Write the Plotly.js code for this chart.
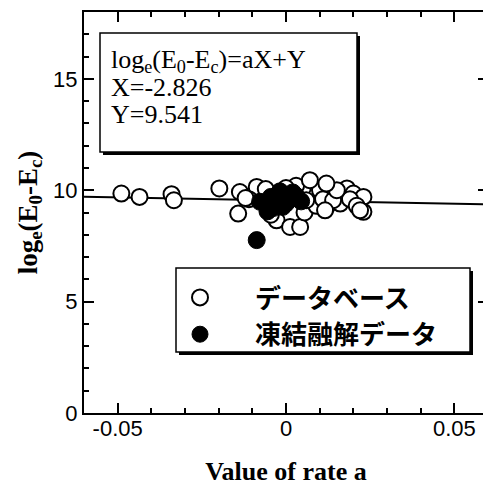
<!DOCTYPE html>
<html>
<head>
<meta charset="utf-8">
<script src="https://cdn.plot.ly/plotly-3.0.1.min.js"></script>
<style>
html,body{margin:0;padding:0;overflow:hidden;background:#fff;}
#chart{width:490px;height:488px;}
</style>
</head>
<body>
<div id="chart"></div>
<script>
// Database (open circles)
const dbX = [-0.0489,-0.0435,-0.0340,-0.0333,-0.0198,-0.0137,-0.0142,-0.0087,-0.0110,-0.0060,
             -0.0028,0.0012,0.0042,-0.0045,0.0055,0.0071,0.0081,0.0101,0.0121,0.0141,
             0.0161,0.0181,0.0200,0.0230,0.0230,0.0050,0.0030,0.0000,0.0090,0.0110,
             0.0060,0.0140,0.0190,0.0210,-0.0120,0.0116,0.0151,0.0220,0.0120,0.0071];
const dbY = [9.85,9.70,9.82,9.55,10.08,9.92,8.95,10.15,9.60,10.05,
             8.65,8.35,8.35,8.90,9.00,10.30,9.78,10.00,9.25,9.85,
             9.40,10.08,9.85,9.70,9.03,10.10,10.20,10.10,9.30,9.60,
             9.55,9.55,9.60,9.30,9.65,9.10,10.00,9.10,10.30,10.45];
// Freeze-thaw data (filled circles)
const ftX = [-0.0087,-0.0077,-0.0060,-0.0045,-0.0038,-0.0025,-0.0018,0.0000,0.0012,0.0030,0.0045,-0.0055,-0.0010,0.0020];
const ftY = [7.76,9.48,9.35,9.70,9.20,9.55,9.95,9.40,9.60,9.75,9.50,9.05,9.25,9.90];
// Fit: log_e(E0-Ec) = aX + Y
const fitX = -2.826;
const fitY = 9.541;
const xRange = [-0.06, 0.06];
const yRange = [0, 18];
const xTicks = [-0.05, 0, 0.05];
const xTickText = ['-0.05', '0', '0.05'];
const yTicks = [0, 5, 10, 15];
const seriesNames = ['データベース', '凍結融解データ'];

const lineX = xRange.slice();
const lineY = lineX.map(a => a * fitX + fitY);

const traces = [
  {x: lineX, y: lineY, mode: 'lines', line: {color: '#000', width: 2}, showlegend: false, hoverinfo: 'skip'},
  {x: dbX, y: dbY, mode: 'markers', name: seriesNames[0],
   marker: {symbol: 'circle', size: 16, color: '#fff', line: {color: '#000', width: 2}}},
  {x: ftX, y: ftY, mode: 'markers', name: seriesNames[1],
   marker: {symbol: 'circle', size: 17, color: '#000', line: {color: '#000', width: 1}}}
];

const W = 404, H = 401;
function px(x){ return x / W; }
function py(y){ return y / H; }
const boxFont = {family: 'Liberation Serif, Times New Roman, serif', size: 26, color: '#000'};

const layout = {
  width: 490, height: 488,
  margin: {l: 84, r: 2, t: 12, b: 75},
  paper_bgcolor: '#fff', plot_bgcolor: '#fff',
  showlegend: true,
  xaxis: {
    range: xRange, tickvals: xTicks, ticktext: xTickText,
    ticks: 'inside', ticklen: 10, tickwidth: 2, tickcolor: '#000',
    minor: {dtick: 0.01, ticks: 'inside', ticklen: 5, tickwidth: 2, tickcolor: '#000'},
    showline: true, linewidth: 2, linecolor: '#000', mirror: 'ticks',
    showgrid: false, zeroline: false, ticklabelstandoff: -5,
    tickfont: {family: 'Liberation Sans, Arial, sans-serif', size: 22, color: '#000'},
    title: {text: 'Value of rate a', standoff: 21,
            font: {family: 'Liberation Serif, Times New Roman, serif', size: 26, color: '#000', weight: 'bold'}}
  },
  yaxis: {
    range: yRange, tickvals: yTicks,
    ticks: 'inside', ticklen: 10, tickwidth: 2, tickcolor: '#000',
    minor: {dtick: 1, ticks: 'inside', ticklen: 5, tickwidth: 2, tickcolor: '#000'},
    showline: true, linewidth: 2, linecolor: '#000', mirror: 'ticks',
    showgrid: false, zeroline: false,
    tickfont: {family: 'Liberation Sans, Arial, sans-serif', size: 22, color: '#000'},
    title: {text: 'log<sub>e</sub>(E<sub>0</sub>-E<sub>c</sub>)', standoff: 8,
            font: {family: 'Liberation Serif, Times New Roman, serif', size: 27, color: '#000', weight: 'bold'}}
  },
  legend: {
    x: px(61), y: py(413-274), xanchor: 'left', yanchor: 'top',
    bgcolor: 'rgba(0,0,0,0)', borderwidth: 0, itemwidth: 100,
    font: {family: 'Noto Sans CJK JP, sans-serif', size: 26, color: '#000', weight: 'bold'}
  },
  shapes: [
    // text box shadow + box
    {type: 'rect', xref: 'paper', yref: 'paper', layer: 'above',
     x0: px(19), x1: px(276), y0: py(413-155), y1: py(413-36),
     fillcolor: '#000', line: {width: 0}},
    {type: 'rect', xref: 'paper', yref: 'paper', layer: 'above',
     x0: px(16), x1: px(273), y0: py(413-152), y1: py(413-33),
     fillcolor: '#fff', line: {color: '#000', width: 1.5}},
    // legend box shadow + box
    {type: 'rect', xref: 'paper', yref: 'paper', layer: 'below',
     x0: px(95), x1: px(389), y0: py(413-355), y1: py(413-271),
     fillcolor: '#000', line: {width: 0}},
    {type: 'rect', xref: 'paper', yref: 'paper', layer: 'below',
     x0: px(92), x1: px(386), y0: py(413-352), y1: py(413-268),
     fillcolor: '#fff', line: {color: '#000', width: 1.5}}
  ],
  annotations: [
    {xref: 'paper', yref: 'paper', x: px(25), y: py(413-61), xanchor: 'left', yanchor: 'middle', showarrow: false,
     text: 'log<sub>e</sub>(E<sub>0</sub>-E<sub>c</sub>)=aX+Y', font: boxFont},
    {xref: 'paper', yref: 'paper', x: px(25), y: py(413-88), xanchor: 'left', yanchor: 'middle', showarrow: false,
     text: 'X=' + fitX.toFixed(3), font: boxFont},
    {xref: 'paper', yref: 'paper', x: px(25), y: py(413-114), xanchor: 'left', yanchor: 'middle', showarrow: false,
     text: 'Y=' + fitY.toFixed(3), font: boxFont}
  ]
};

Plotly.newPlot('chart', traces, layout, {displayModeBar: false, staticPlot: true});
</script>
</body>
</html>
